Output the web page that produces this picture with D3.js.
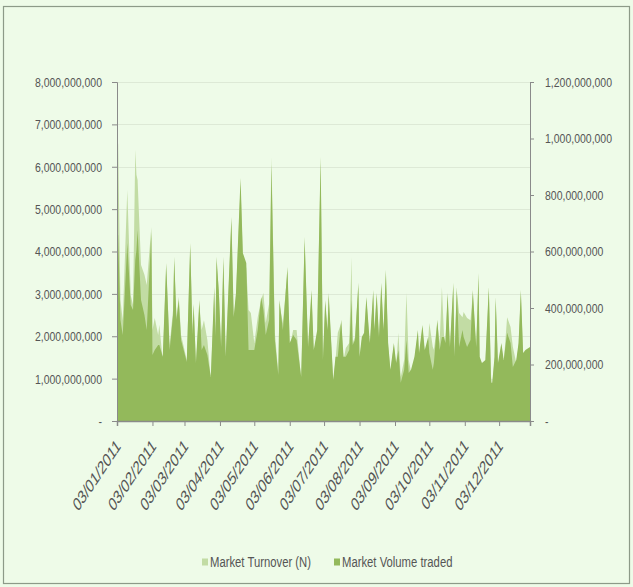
<!DOCTYPE html>
<html><head><meta charset="utf-8">
<script src="https://cdn.jsdelivr.net/npm/d3@7"></script>
<style>body{margin:0;background:#eefbe8}svg{display:block}</style>
</head><body><svg id="c" width="633" height="587"></svg>
<script>
const dates = ["2011-01-03","2011-01-04","2011-01-06","2011-01-08","2011-01-12","2011-01-15","2011-01-17","2011-01-19","2011-01-20","2011-01-21","2011-01-24","2011-01-27","2011-01-29",
"2011-02-02","2011-02-03","2011-02-05","2011-02-08","2011-02-09","2011-02-12","2011-02-15","2011-02-18","2011-02-21","2011-02-22","2011-02-24","2011-02-26","2011-02-28",
"2011-03-05","2011-03-08","2011-03-10","2011-03-11","2011-03-13","2011-03-16","2011-03-18","2011-03-20","2011-03-23","2011-03-26","2011-03-29","2011-03-30","2011-03-31",
"2011-04-02","2011-04-04","2011-04-06","2011-04-08","2011-04-13","2011-04-15","2011-04-17","2011-04-21","2011-04-23","2011-04-26","2011-04-28","2011-04-30",
"2011-05-03","2011-05-06","2011-05-09","2011-05-11","2011-05-13","2011-05-16","2011-05-18","2011-05-21","2011-05-24","2011-05-25","2011-05-28",
"2011-06-01","2011-06-03","2011-06-06","2011-06-09","2011-06-13","2011-06-16","2011-06-19","2011-06-22","2011-06-24","2011-06-27","2011-06-30",
"2011-07-02","2011-07-04","2011-07-06","2011-07-07","2011-07-11","2011-07-13","2011-07-15","2011-07-18","2011-07-20","2011-07-22","2011-07-25","2011-07-27","2011-07-28","2011-07-30",
"2011-08-02","2011-08-03","2011-08-05","2011-08-07","2011-08-09","2011-08-12","2011-08-15","2011-08-16","2011-08-18","2011-08-20","2011-08-22","2011-08-24","2011-08-26","2011-08-28","2011-08-30",
"2011-09-02","2011-09-04","2011-09-06","2011-09-08","2011-09-11","2011-09-13","2011-09-15","2011-09-17","2011-09-20","2011-09-23","2011-09-24","2011-09-27","2011-09-29",
"2011-10-02","2011-10-03","2011-10-06","2011-10-07","2011-10-10","2011-10-12","2011-10-14","2011-10-16","2011-10-17","2011-10-19","2011-10-21","2011-10-24","2011-10-25","2011-10-27","2011-10-29",
"2011-11-01","2011-11-02","2011-11-05","2011-11-08","2011-11-10","2011-11-13","2011-11-15","2011-11-16","2011-11-18","2011-11-21","2011-11-24","2011-11-26","2011-11-27","2011-11-29","2011-11-30",
"2011-12-02","2011-12-05","2011-12-07","2011-12-10","2011-12-13","2011-12-15","2011-12-18","2011-12-20","2011-12-22","2011-12-24","2011-12-26","2011-12-30"];

// Market Turnover (N), left axis
const turnover = [6.21e9,6.56e9,2.86e9,2.38e9,5.45e9,2.97e9,2.74e9,6.40e9,5.81e9,5.69e9,3.68e9,3.45e9,3.21e9,
4.58e9,2.15e9,2.43e9,2.03e9,2.27e9,1.42e9,3.61e9,1.79e9,2.62e9,3.75e9,2.45e9,2.93e9,2.03e9,
1.44e9,4.08e9,2.15e9,2.78e9,1.30e9,2.74e9,2.15e9,2.38e9,1.91e9,0.99e9,3.04e9,2.03e9,3.75e9,
3.09e9,1.68e9,3.75e9,1.44e9,4.70e9,2.38e9,2.95e9,5.57e9,3.85e9,3.61e9,2.62e9,2.55e9,
1.84e9,2.45e9,2.86e9,3.02e9,2.31e9,2.78e9,6.23e9,2.08e9,1.13e9,2.76e9,2.31e9,
3.52e9,1.77e9,2.15e9,2.15e9,0.99e9,4.22e9,1.68e9,3.00e9,1.60e9,2.08e9,6.09e9,
1.37e9,2.76e9,2.08e9,2.93e9,0.92e9,1.44e9,2.08e9,2.31e9,1.44e9,1.72e9,1.84e9,3.87e9,1.84e9,1.98e9,
3.16e9,1.44e9,1.91e9,2.01e9,2.86e9,1.77e9,3.00e9,2.08e9,2.93e9,1.91e9,3.16e9,2.08e9,3.45e9,1.77e9,1.16e9,
1.77e9,1.30e9,2.08e9,1.04e9,1.44e9,3.02e9,1.44e9,1.16e9,1.44e9,2.08e9,1.53e9,2.19e9,1.60e9,
1.91e9,2.31e9,1.75e9,1.68e9,2.31e9,1.84e9,3.16e9,1.91e9,1.77e9,2.93e9,1.68e9,3.16e9,1.44e9,3.07e9,2.55e9,
2.45e9,2.57e9,2.43e9,2.38e9,3.00e9,1.68e9,3.37e9,1.44e9,1.30e9,1.37e9,3.07e9,1.04e9,0.85e9,1.44e9,2.83e9,
1.30e9,1.77e9,1.37e9,2.45e9,2.22e9,1.75e9,1.37e9,1.77e9,3.00e9,1.53e9,1.60e9,1.68e9];

// Market Volume traded, right axis
const volume = [641e6,658e6,358e6,304e6,630e6,411e6,393e6,570e6,605e6,676e6,428e6,375e6,322e6,
669e6,234e6,251e6,269e6,269e6,227e6,559e6,251e6,375e6,581e6,358e6,428e6,287e6,
209e6,630e6,304e6,411e6,205e6,428e6,251e6,269e6,234e6,156e6,474e6,297e6,581e6,
457e6,262e6,581e6,227e6,722e6,368e6,453e6,860e6,595e6,559e6,251e6,251e6,
251e6,322e6,439e6,393e6,304e6,358e6,906e6,287e6,163e6,428e6,322e6,
545e6,276e6,304e6,287e6,156e6,651e6,262e6,464e6,251e6,322e6,935e6,
216e6,428e6,322e6,453e6,145e6,227e6,227e6,358e6,227e6,227e6,251e6,428e6,269e6,287e6,
489e6,227e6,297e6,312e6,439e6,276e6,464e6,322e6,453e6,297e6,489e6,322e6,535e6,276e6,181e6,
276e6,205e6,251e6,135e6,181e6,287e6,170e6,181e6,227e6,322e6,241e6,340e6,251e6,
297e6,241e6,181e6,205e6,358e6,251e6,297e6,297e6,276e6,453e6,262e6,489e6,227e6,474e6,262e6,
322e6,297e6,262e6,287e6,464e6,262e6,524e6,227e6,205e6,216e6,474e6,135e6,135e6,227e6,439e6,
205e6,276e6,216e6,312e6,276e6,191e6,216e6,276e6,464e6,241e6,251e6,262e6];

const leftTicks = [0,1e9,2e9,3e9,4e9,5e9,6e9,7e9,8e9];
const rightTicks = [0,200e6,400e6,600e6,800e6,1000e6,1200e6];
const xTickDates = ["2011-01-03","2011-02-03","2011-03-03","2011-04-03","2011-05-03","2011-06-03","2011-07-03","2011-08-03","2011-09-03","2011-10-03","2011-11-03","2011-12-03"];
const seriesNames = ["Market Turnover (N)","Market Volume traded"];
const colors = ["#c2dca4","#93b95b"];

const parse = d3.timeParse("%Y-%m-%d");
const data = dates.map((d,i)=>({date:parse(d), t:turnover[i], v:volume[i]}));

const svg = d3.select("#c");
const L = 117, R = 530, T = 82, B = 421;
const x = d3.scaleTime().domain([parse("2011-01-03"), parse("2011-12-30")]).range([L,R]);
const yL = d3.scaleLinear().domain([0,8e9]).range([B,T]);
const yR = d3.scaleLinear().domain([0,1.2e9]).range([B,T]);

// outer border
svg.append("rect").attr("x",3.5).attr("y",6.5).attr("width",626).attr("height",577)
  .attr("fill","#eefbe8").attr("stroke","#8d9a88").attr("stroke-width",1.2);

// gridlines
svg.append("g").selectAll("line").data(leftTicks.slice(1)).join("line")
  .attr("x1",L).attr("x2",R).attr("y1",d=>Math.round(yL(d))+0.5).attr("y2",d=>Math.round(yL(d))+0.5)
  .attr("stroke","#dde9d6").attr("stroke-width",1);

// areas
svg.append("path").datum(data).attr("fill",colors[0])
  .attr("d", d3.area().x(d=>x(d.date)).y0(B).y1(d=>yL(d.t)));
svg.append("path").datum(data).attr("fill",colors[1])
  .attr("d", d3.area().x(d=>x(d.date)).y0(B).y1(d=>yR(d.v)));

const fmt = d3.format(",");
const font = "'Liberation Sans',Arial,sans-serif";
const txt = "#555";

// left axis
const gl = svg.append("g").attr("transform",`translate(${L},0)`)
  .call(d3.axisLeft(yL).tickValues(leftTicks).tickSize(5).tickPadding(10).tickFormat(d=>d===0?"-":fmt(d)));
// right axis
const gr = svg.append("g").attr("transform",`translate(${R},0)`)
  .call(d3.axisRight(yR).tickValues(rightTicks).tickSize(4).tickPadding(11).tickFormat(d=>d===0?"-":fmt(d)));
[gl,gr].forEach(g=>{
  g.select(".domain").attr("stroke","#8a8a8a");
  g.selectAll(".tick line").attr("stroke","#8a8a8a");
  g.selectAll(".tick text").attr("fill",txt).style("font-family",font).style("font-size","10.5px")
    .attr("transform","scale(1,1.3)");
});

// x axis
const gx = svg.append("g").attr("transform",`translate(0,${B})`)
  .call(d3.axisBottom(x).tickValues(xTickDates.map(parse)).tickSize(5).tickFormat(d3.timeFormat("%d/%m/%Y")));
gx.select(".domain").attr("stroke","#8a8a8a").attr("stroke-width",1.5);
gx.selectAll(".tick line").attr("stroke","#8a8a8a");
gx.selectAll(".tick text").attr("fill",txt).style("font-family",font).style("font-size","12.5px")
  .attr("text-anchor","end").attr("dy",null).attr("y",null)
  .attr("transform","translate(4,26) scale(1,1.5) rotate(-45)");

// legend
const lx = [202, 334];
seriesNames.forEach((n,i)=>{
  const g = svg.append("g").attr("transform",`translate(${lx[i]},562)`);
  g.append("rect").attr("x",0).attr("y",-3.5).attr("width",6).attr("height",7).attr("fill",colors[i]);
  g.append("text").attr("x",8).attr("y",0).attr("dy","0.35em").attr("fill",txt)
    .attr("transform","scale(1,1.3)")
    .style("font-family",font).style("font-size","11.3px").text(n);
});
</script></body></html>
